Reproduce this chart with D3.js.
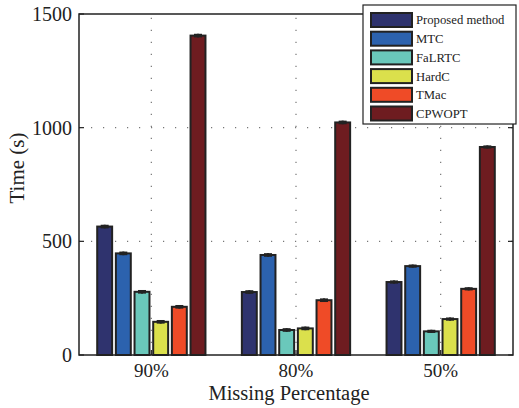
<!DOCTYPE html>
<html>
<head>
<meta charset="utf-8">
<script src="https://cdn.jsdelivr.net/npm/d3@7"></script>
<style>
  body { margin: 0; background: #fff; }
  text { font-family: "Liberation Serif", "Times New Roman", serif; fill: #222; }
</style>
</head>
<body>
<div id="chart"></div>
<script>
var svgWidth = 519;
var svgHeight = 408;

var margin = { top: 14, right: 6, bottom: 53, left: 79 };
var width = svgWidth - margin.left - margin.right;
var height = svgHeight - margin.top - margin.bottom;

// data
var categories = ["90%", "80%", "50%"];
var methods = ["Proposed method", "MTC", "FaLRTC", "HardC", "TMac", "CPWOPT"];
var colors = ["#2f336e", "#2c62ae", "#6ac8bb", "#dbe04c", "#ef4b27", "#6e1c20"];
var proposed = [565, 277, 321];
var mtc = [447, 440, 391];
var falrtc = [278, 110, 104];
var hardc = [146, 117, 158];
var tmac = [212, 241, 291];
var cpwopt = [1405, 1023, 915];
var errors = [8, 8, 7];
var yTicks = [0, 500, 1000, 1500];

var seriesValues = [proposed, mtc, falrtc, hardc, tmac, cpwopt];

var svg = d3.select("#chart")
  .append("svg")
  .attr("width", svgWidth)
  .attr("height", svgHeight);

var chartGroup = svg.append("g")
  .attr("transform", `translate(${margin.left}, ${margin.top})`);

// scales
var xGroup = d3.scaleBand()
  .domain(categories)
  .range([0, width]);

var xInner = d3.scaleBand()
  .domain(methods)
  .range([0, xGroup.bandwidth() * 0.8])
  .padding(0.2);

var yScale = d3.scaleLinear()
  .domain([0, 1500])
  .range([height, 0]);

// dotted grid
var gridColor = "#777";
chartGroup.selectAll(".hgrid")
  .data(yTicks.filter(d => d > 0 && d < 1500))
  .enter()
  .append("line")
  .attr("x1", 0)
  .attr("x2", width)
  .attr("y1", d => yScale(d))
  .attr("y2", d => yScale(d))
  .attr("stroke", gridColor)
  .attr("stroke-width", 1.2)
  .attr("stroke-dasharray", "1.2,10.8");

chartGroup.selectAll(".vgrid")
  .data(categories)
  .enter()
  .append("line")
  .attr("x1", d => xGroup(d) + xGroup.bandwidth() / 2)
  .attr("x2", d => xGroup(d) + xGroup.bandwidth() / 2)
  .attr("y1", height)
  .attr("y2", 0)
  .attr("stroke", gridColor)
  .attr("stroke-width", 1.2)
  .attr("stroke-dasharray", "1.2,10.8");

// bars
var rows = [];
categories.forEach(function(c, i) {
  methods.forEach(function(m, j) {
    rows.push({ cat: c, method: m, value: seriesValues[j][i], err: errors[i], color: colors[j] });
  });
});

var groupOffset = xGroup.bandwidth() * 0.1;

var bars = chartGroup.selectAll(".bar")
  .data(rows)
  .enter()
  .append("g")
  .attr("transform", d => `translate(${xGroup(d.cat) + groupOffset + xInner(d.method)}, 0)`);

bars.append("rect")
  .attr("x", 0)
  .attr("y", d => yScale(d.value))
  .attr("width", xInner.bandwidth())
  .attr("height", d => height - yScale(d.value))
  .attr("fill", d => d.color)
  .attr("stroke", "#222")
  .attr("stroke-width", 2);

// error bars
var cap = 4;
bars.append("line")
  .attr("x1", xInner.bandwidth() / 2)
  .attr("x2", xInner.bandwidth() / 2)
  .attr("y1", d => yScale(d.value - d.err))
  .attr("y2", d => yScale(d.value + d.err))
  .attr("stroke", "#222")
  .attr("stroke-width", 2);

bars.append("rect")
  .attr("x", xInner.bandwidth() / 2 - cap)
  .attr("y", d => yScale(d.value + d.err))
  .attr("width", cap * 2)
  .attr("height", d => yScale(d.value - d.err) - yScale(d.value + d.err))
  .attr("fill", "#222");

// axes box
chartGroup.append("rect")
  .attr("x", 0)
  .attr("y", 0)
  .attr("width", width)
  .attr("height", height)
  .attr("fill", "none")
  .attr("stroke", "#222")
  .attr("stroke-width", 1.5);

// inward ticks
var tickLen = 5;
yTicks.forEach(function(t) {
  chartGroup.append("line")
    .attr("x1", 0).attr("x2", tickLen)
    .attr("y1", yScale(t)).attr("y2", yScale(t))
    .attr("stroke", "#222").attr("stroke-width", 1.2);
  chartGroup.append("line")
    .attr("x1", width).attr("x2", width - tickLen)
    .attr("y1", yScale(t)).attr("y2", yScale(t))
    .attr("stroke", "#222").attr("stroke-width", 1.2);
});
categories.forEach(function(c) {
  var cx = xGroup(c) + xGroup.bandwidth() / 2;
  chartGroup.append("line")
    .attr("x1", cx).attr("x2", cx)
    .attr("y1", height).attr("y2", height - tickLen)
    .attr("stroke", "#222").attr("stroke-width", 1.2);
});

// tick labels
chartGroup.selectAll(".ylab")
  .data(yTicks)
  .enter()
  .append("text")
  .attr("x", -7)
  .attr("y", d => yScale(d))
  .attr("dy", "0.35em")
  .attr("text-anchor", "end")
  .style("font-size", "20px")
  .text(d => d);

chartGroup.selectAll(".xlab")
  .data(categories)
  .enter()
  .append("text")
  .attr("x", d => xGroup(d) + xGroup.bandwidth() / 2)
  .attr("y", height + 22)
  .attr("text-anchor", "middle")
  .style("font-size", "19px")
  .text(d => d);

// axis titles
chartGroup.append("text")
  .attr("x", 210)
  .attr("y", height + 45)
  .attr("text-anchor", "middle")
  .style("font-size", "20.5px")
  .text("Missing Percentage");

chartGroup.append("text")
  .attr("transform", "rotate(-90)")
  .attr("x", -(168 - margin.top))
  .attr("y", -55)
  .attr("text-anchor", "middle")
  .style("font-size", "21px")
  .text("Time (s)");

// legend
var legend = svg.append("g")
  .attr("transform", "translate(363, 5)");

legend.append("rect")
  .attr("x", 0)
  .attr("y", 0)
  .attr("width", 153)
  .attr("height", 119)
  .attr("fill", "#fff")
  .attr("stroke", "#222")
  .attr("stroke-width", 1.2);

var items = legend.selectAll(".item")
  .data(methods)
  .enter()
  .append("g")
  .attr("transform", (d, i) => `translate(0, ${15 + i * 18.7})`);

items.append("rect")
  .attr("x", 8)
  .attr("y", -7)
  .attr("width", 41)
  .attr("height", 14)
  .attr("fill", (d, i) => colors[i])
  .attr("stroke", "#222")
  .attr("stroke-width", 2);

items.append("text")
  .attr("x", 53)
  .attr("y", 0)
  .attr("dy", "0.35em")
  .style("font-size", "12.7px")
  .text(d => d);
</script>
</body>
</html>
